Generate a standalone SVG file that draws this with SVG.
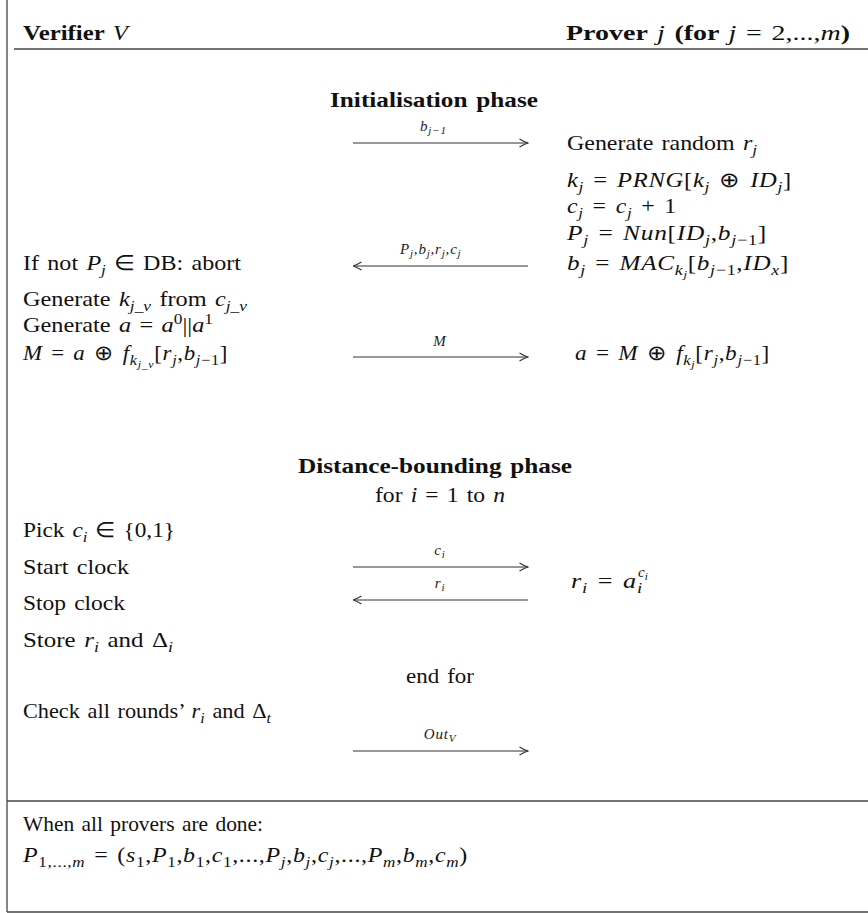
<svg xmlns="http://www.w3.org/2000/svg" width="868" height="913" viewBox="0 0 868 913">
<defs>
<style>
.t{font-family:"Liberation Serif","Times New Roman",serif;font-size:21px;fill:#111;word-spacing:2px}
.m{letter-spacing:0.6px}
.b{font-weight:bold}
.i{font-style:italic}
.n{font-weight:normal}
.sub{font-size:15px}
.ss{font-size:11px}
.lab{font-family:"Liberation Serif","Times New Roman",serif;font-size:15px;font-style:italic;fill:#222;letter-spacing:0.8px}
.ls{font-size:11px}
.rule{stroke:#444;stroke-width:1.3;fill:none}
.arr{stroke:#333;stroke-width:1.1;fill:none}
</style>
<marker id="ah" viewBox="0 0 10 10" refX="9.5" refY="5" markerWidth="10" markerHeight="10" markerUnits="userSpaceOnUse" orient="auto-start-reverse">
<path d="M1,1 Q6,4 9.5,5 Q6,6 1,9" fill="none" stroke="#333" stroke-width="1.1"/>
</marker>
</defs>
<rect width="868" height="913" fill="#fff"/>
<g id="frame">
<line class="rule" x1="7" y1="0" x2="7" y2="912"/>
<line class="rule" x1="14" y1="49" x2="868" y2="49"/>
<line class="rule" x1="7" y1="801" x2="868" y2="801"/>
<line class="rule" x1="7" y1="912" x2="868" y2="912"/>
</g>
<g id="header">
<text class="t b" x="23" y="40" textLength="105" lengthAdjust="spacingAndGlyphs">Verifier <tspan class="i n">V</tspan></text>
<text class="t" x="566" y="40" textLength="284" lengthAdjust="spacingAndGlyphs"><tspan class="b">Prover </tspan><tspan class="i">j</tspan><tspan class="b"> (for </tspan><tspan class="i">j</tspan> = 2,...,<tspan class="i">m</tspan><tspan class="b">)</tspan></text>
</g>
<g id="init-phase">
<text class="t b" x="330" y="107" textLength="208" lengthAdjust="spacingAndGlyphs">Initialisation phase</text>
</g>
<g id="prover-init">
<text class="t" x="567" y="150" textLength="190" lengthAdjust="spacingAndGlyphs">Generate random <tspan class="i">r</tspan><tspan class="sub i" dy="5">j</tspan></text>
<text class="t m" x="567" y="187" textLength="225" lengthAdjust="spacingAndGlyphs"><tspan class="i">k</tspan><tspan class="sub i" dy="5">j</tspan><tspan dy="-5"> = </tspan><tspan class="i">PRNG</tspan>[<tspan class="i">k</tspan><tspan class="sub i" dy="5">j</tspan><tspan dy="-5"> ⊕ </tspan><tspan class="i">ID</tspan><tspan class="sub i" dy="5">j</tspan><tspan dy="-5">]</tspan></text>
<text class="t m" x="567" y="213" textLength="110" lengthAdjust="spacingAndGlyphs"><tspan class="i">c</tspan><tspan class="sub i" dy="5">j</tspan><tspan dy="-5"> = </tspan><tspan class="i">c</tspan><tspan class="sub i" dy="5">j</tspan><tspan dy="-5"> + 1</tspan></text>
<text class="t m" x="567" y="240" textLength="200" lengthAdjust="spacingAndGlyphs"><tspan class="i">P</tspan><tspan class="sub i" dy="5">j</tspan><tspan dy="-5"> = </tspan><tspan class="i">Nun</tspan>[<tspan class="i">ID</tspan><tspan class="sub i" dy="5">j</tspan><tspan dy="-5">,</tspan><tspan class="i">b</tspan><tspan class="sub" dy="5"><tspan class="i">j</tspan>−1</tspan><tspan dy="-5">]</tspan></text>
<text class="t m" x="567" y="270" textLength="222" lengthAdjust="spacingAndGlyphs"><tspan class="i">b</tspan><tspan class="sub i" dy="5">j</tspan><tspan dy="-5"> = </tspan><tspan class="i">MAC</tspan><tspan class="sub i" dy="5">k</tspan><tspan class="ss i" dy="3">j</tspan><tspan dy="-8">[</tspan><tspan class="i">b</tspan><tspan class="sub" dy="5"><tspan class="i">j</tspan>−1</tspan><tspan dy="-5">,</tspan><tspan class="i">ID</tspan><tspan class="sub i" dy="5">x</tspan><tspan dy="-5">]</tspan></text>
<text class="t m" x="575" y="360" textLength="195" lengthAdjust="spacingAndGlyphs"><tspan class="i">a</tspan> = <tspan class="i">M</tspan> ⊕ <tspan class="i">f</tspan><tspan class="sub i" dy="5">k</tspan><tspan class="ss i" dy="3">j</tspan><tspan dy="-8">[</tspan><tspan class="i">r</tspan><tspan class="sub i" dy="5">j</tspan><tspan dy="-5">,</tspan><tspan class="i">b</tspan><tspan class="sub" dy="5"><tspan class="i">j</tspan>−1</tspan><tspan dy="-5">]</tspan></text>
</g>
<g id="verifier-init">
<text class="t" x="23" y="270" textLength="218" lengthAdjust="spacingAndGlyphs">If not <tspan class="i">P</tspan><tspan class="sub i" dy="5">j</tspan><tspan dy="-5"> ∈ DB: abort</tspan></text>
<text class="t" x="23" y="306" textLength="224" lengthAdjust="spacingAndGlyphs">Generate <tspan class="i">k</tspan><tspan class="sub i" dy="5">j_v</tspan><tspan dy="-5"> from </tspan><tspan class="i">c</tspan><tspan class="sub i" dy="5">j_v</tspan></text>
<text class="t" x="23" y="332" textLength="190" lengthAdjust="spacingAndGlyphs">Generate <tspan class="i">a</tspan> = <tspan class="i">a</tspan><tspan class="sub" dy="-8">0</tspan><tspan dy="8">||</tspan><tspan class="i">a</tspan><tspan class="sub" dy="-8">1</tspan></text>
<text class="t m" x="23" y="360" textLength="205" lengthAdjust="spacingAndGlyphs"><tspan class="i">M</tspan> = <tspan class="i">a</tspan> ⊕ <tspan class="i">f</tspan><tspan class="sub i" dy="5">k</tspan><tspan class="ss i" dy="3">j_v</tspan><tspan dy="-8">[</tspan><tspan class="i">r</tspan><tspan class="sub i" dy="5">j</tspan><tspan dy="-5">,</tspan><tspan class="i">b</tspan><tspan class="sub" dy="5"><tspan class="i">j</tspan>−1</tspan><tspan dy="-5">]</tspan></text>
</g>
<g id="db-phase">
<text class="t b" x="298" y="473" textLength="274" lengthAdjust="spacingAndGlyphs">Distance-bounding phase</text>
<text class="t" x="375" y="502" textLength="130" lengthAdjust="spacingAndGlyphs">for <tspan class="i">i</tspan> = 1 to <tspan class="i">n</tspan></text>
<text class="t" x="406" y="683" textLength="68" lengthAdjust="spacingAndGlyphs">end for</text>
</g>
<g id="verifier-db">
<text class="t" x="23" y="537" textLength="152" lengthAdjust="spacingAndGlyphs">Pick <tspan class="i">c</tspan><tspan class="sub i" dy="5">i</tspan><tspan dy="-5"> ∈ {0,1}</tspan></text>
<text class="t" x="23" y="574" textLength="106" lengthAdjust="spacingAndGlyphs">Start clock</text>
<text class="t" x="23" y="610" textLength="102" lengthAdjust="spacingAndGlyphs">Stop clock</text>
<text class="t" x="23" y="647" textLength="150" lengthAdjust="spacingAndGlyphs">Store <tspan class="i">r</tspan><tspan class="sub i" dy="5">i</tspan><tspan dy="-5"> and Δ</tspan><tspan class="sub i" dy="5">i</tspan></text>
<text class="t" x="23" y="718" textLength="248" lengthAdjust="spacingAndGlyphs">Check all rounds’ <tspan class="i">r</tspan><tspan class="sub i" dy="5">i</tspan><tspan dy="-5"> and Δ</tspan><tspan class="sub i" dy="5">t</tspan></text>
</g>
<g id="prover-db">
<text class="t m" x="571" y="588" textLength="72" lengthAdjust="spacingAndGlyphs"><tspan class="i">r</tspan><tspan class="sub i" dy="5">i</tspan><tspan dy="-5"> = </tspan><tspan class="i">a</tspan><tspan class="sub i" dy="5">i</tspan></text>
<text class="t" x="638" y="577"><tspan class="sub i">c</tspan><tspan class="ss i" dy="3">i</tspan></text>
</g>
<g id="result">
<text class="t" x="23" y="831" textLength="240" lengthAdjust="spacingAndGlyphs">When all provers are done:</text>
<text class="t m" x="23" y="862" textLength="445" lengthAdjust="spacingAndGlyphs"><tspan class="i">P</tspan><tspan class="sub" dy="5">1,...,<tspan class="i">m</tspan></tspan><tspan dy="-5"> = (</tspan><tspan class="i">s</tspan><tspan class="sub" dy="5">1</tspan><tspan dy="-5">,</tspan><tspan class="i">P</tspan><tspan class="sub" dy="5">1</tspan><tspan dy="-5">,</tspan><tspan class="i">b</tspan><tspan class="sub" dy="5">1</tspan><tspan dy="-5">,</tspan><tspan class="i">c</tspan><tspan class="sub" dy="5">1</tspan><tspan dy="-5">,...,</tspan><tspan class="i">P</tspan><tspan class="sub i" dy="5">j</tspan><tspan dy="-5">,</tspan><tspan class="i">b</tspan><tspan class="sub i" dy="5">j</tspan><tspan dy="-5">,</tspan><tspan class="i">c</tspan><tspan class="sub i" dy="5">j</tspan><tspan dy="-5">,...,</tspan><tspan class="i">P</tspan><tspan class="sub i" dy="5">m</tspan><tspan dy="-5">,</tspan><tspan class="i">b</tspan><tspan class="sub i" dy="5">m</tspan><tspan dy="-5">,</tspan><tspan class="i">c</tspan><tspan class="sub i" dy="5">m</tspan><tspan dy="-5">)</tspan></text>
</g>
<g id="connectors">
<line class="arr" x1="353" y1="143" x2="528" y2="143" marker-end="url(#ah)"/>
<text class="lab" x="420" y="131">b<tspan class="ls" dy="3">j−1</tspan></text>
<line class="arr" x1="528" y1="266" x2="353" y2="266" marker-end="url(#ah)"/>
<text class="lab" x="400" y="254">P<tspan class="ls" dy="3">j</tspan><tspan dy="-3">,b</tspan><tspan class="ls" dy="3">j</tspan><tspan dy="-3">,r</tspan><tspan class="ls" dy="3">j</tspan><tspan dy="-3">,c</tspan><tspan class="ls" dy="3">j</tspan></text>
<line class="arr" x1="353" y1="357" x2="528" y2="357" marker-end="url(#ah)"/>
<text class="lab" x="440" y="346" text-anchor="middle">M</text>
<line class="arr" x1="353" y1="567" x2="528" y2="567" marker-end="url(#ah)"/>
<text class="lab" x="440" y="555" text-anchor="middle">c<tspan class="ls" dy="3">i</tspan></text>
<line class="arr" x1="528" y1="600" x2="353" y2="600" marker-end="url(#ah)"/>
<text class="lab" x="440" y="588" text-anchor="middle">r<tspan class="ls" dy="3">i</tspan></text>
<line class="arr" x1="353" y1="751" x2="528" y2="751" marker-end="url(#ah)"/>
<text class="lab" x="440" y="739" text-anchor="middle">Out<tspan class="ls" dy="3">V</tspan></text>
</g>
</svg>
